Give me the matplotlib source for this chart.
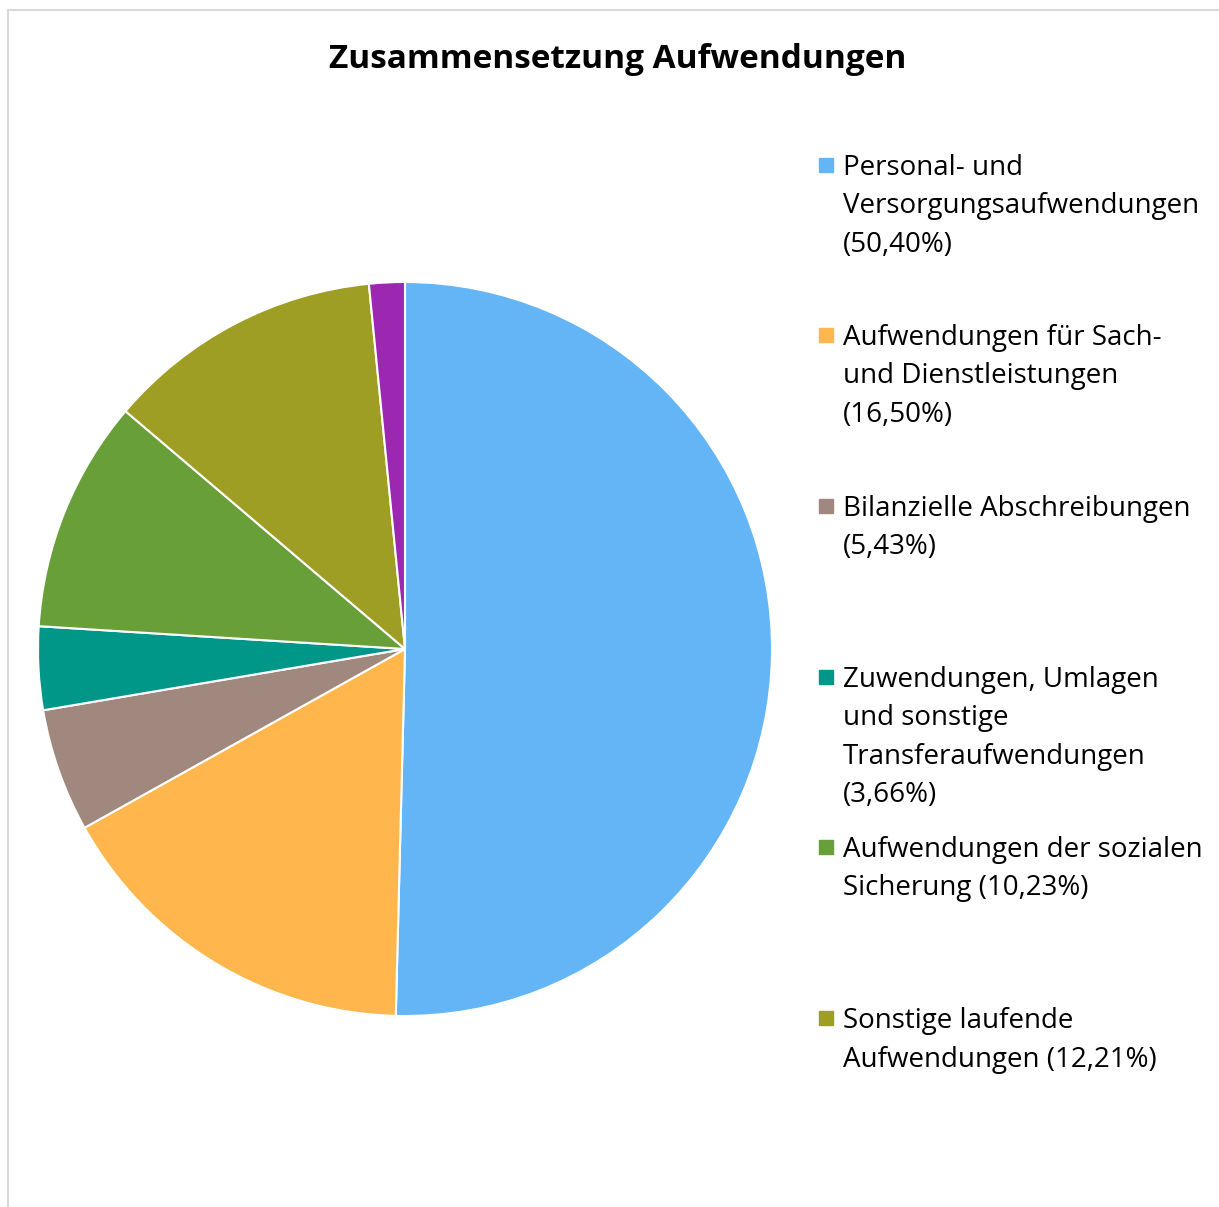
import matplotlib.pyplot as plt
from matplotlib.patches import Rectangle

# data
labels = [
    "Personal- und\nVersorgungsaufwendungen\n(50,40%)",
    "Aufwendungen für Sach-\nund Dienstleistungen\n(16,50%)",
    "Bilanzielle Abschreibungen\n(5,43%)",
    "Zuwendungen, Umlagen\nund sonstige\nTransferaufwendungen\n(3,66%)",
    "Aufwendungen der sozialen\nSicherung (10,23%)",
    "Sonstige laufende\nAufwendungen (12,21%)",
    "Sonstige",
]
values = [50.40, 16.50, 5.43, 3.66, 10.23, 12.21, 1.57]
colors = ["#64b5f6", "#ffb74d", "#a1887f", "#009688", "#689f38", "#9e9d24", "#9c27b0"]

plt.rcParams['font.family'] = ['Open Sans', 'DejaVu Sans']

W, H = 1219, 1207
fig = plt.figure(figsize=(W / 100, H / 100), dpi=100)

# chart frame (only left/top visible)
fig.patches.append(Rectangle((8 / W, -0.01), 1.05, (H - 10) / H + 0.01, transform=fig.transFigure,
                             fill=False, edgecolor="#d9d9d9", lw=1.5))

fig.text(618 / W, 1 - 60 / H, "Zusammensetzung Aufwendungen", ha="center", va="center",
         fontsize=24, fontweight="bold")

cx, cy, r = 405, 649, 367
ax = fig.add_axes([(cx - r) / W, 1 - (cy + r) / H, 2 * r / W, 2 * r / H])
ax.pie(values, colors=colors, startangle=90, counterclock=False, radius=1,
       wedgeprops=dict(edgecolor="white", linewidth=1.5))
ax.set_xlim(-1, 1)
ax.set_ylim(-1, 1)
ax.set_aspect("equal")
ax.axis("off")

# legend drawn by hand (last entry not shown in original)
first_y = [165, 335, 506, 677, 847, 1018]
for lab, col, y in zip(labels[:6], colors[:6], first_y):
    fig.patches.append(Rectangle((819 / W, 1 - (y + 7) / H), 14 / W, 14 / H,
                                 transform=fig.transFigure, color=col))
    fig.text(843 / W, 1 - (y - 11) / H, lab, ha="left", va="top", fontsize=20,
             linespacing=1.5)

fig.savefig("out.png", dpi=100)
